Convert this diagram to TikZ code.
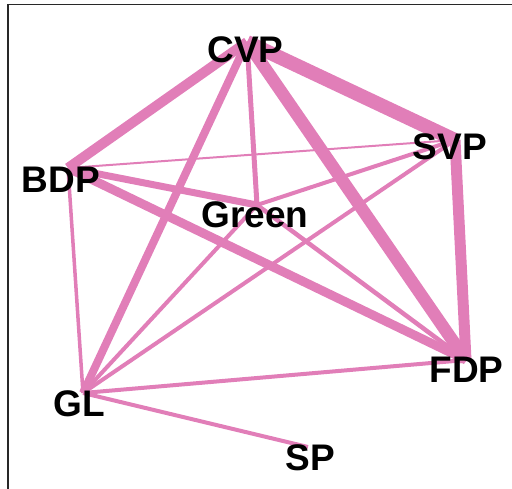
\documentclass[tikz,border=0pt]{standalone}
\usepackage{fontspec}
\setmainfont{Liberation Sans}
\begin{document}
\definecolor{edgepink}{RGB}{225,126,184}
\definecolor{framegray}{RGB}{40,40,40}
\begin{tikzpicture}[x=1pt,y=-1pt,
  party/.style={font=\fontsize{37}{37}\selectfont\bfseries, text=black, inner sep=0pt, anchor=base},
  tie/.style={draw=edgepink, line cap=butt},
  frameline/.style={draw=framegray, line width=1.6pt}]
\useasboundingbox (0,0) rectangle (512,489);

% frame along the left and top edges
\draw[frameline] (8,489) -- (8,4.5) -- (512,4.5);

% vertex positions
\coordinate (vCVP)   at (247,42);
\coordinate (vSVP)   at (455,140);
\coordinate (vBDP)   at (68,168);
\coordinate (vGreen) at (257,205);
\coordinate (vFDP)   at (466,360);
\coordinate (vGL)    at (83,393);
\coordinate (vSP)    at (308,447);

% ties, weighted by line width
\draw[tie, line width=14pt]  (vCVP) -- (vSVP);
\draw[tie, line width=12.5pt] (vCVP) -- (vFDP);
\draw[tie, line width=11pt]  (vSVP) -- (vFDP);
\draw[tie, line width=10pt]  (vCVP) -- (vBDP);
\draw[tie, line width=8pt]   (vCVP) -- (vGL);
\draw[tie, line width=5pt]   (vCVP) -- (vGreen);
\draw[tie, line width=7pt]   (vBDP) -- (vGreen);
\draw[tie, line width=9pt]   (vBDP) -- (vFDP);
\draw[tie, line width=2pt]   (vBDP) -- (vSVP);
\draw[tie, line width=3.5pt] (vBDP) -- (vGL);
\draw[tie, line width=4pt]   (vSVP) -- (vGreen);
\draw[tie, line width=4pt]   (vSVP) -- (vGL);
\draw[tie, line width=4pt]   (vGreen) -- (vGL);
\draw[tie, line width=4.5pt] (vGreen) -- (vFDP);
\draw[tie, line width=4pt]   (vGL) -- (vFDP);
\draw[tie, line width=4pt]   (vGL) -- (vSP);

% party labels
\node[party] (CVP)   at (245.5,63) {CVP};
\node[party] (SVP)   at (450,160)  {SVP};
\node[party] (BDP)   at (61,193)   {BDP};
\node[party] (Green) at (255,228)  {Green};
\node[party] (FDP)   at (466.5,383) {FDP};
\node[party] (GL)    at (79,417)   {GL};
\node[party] (SP)    at (310,470)  {SP};
\end{tikzpicture}
\end{document}
